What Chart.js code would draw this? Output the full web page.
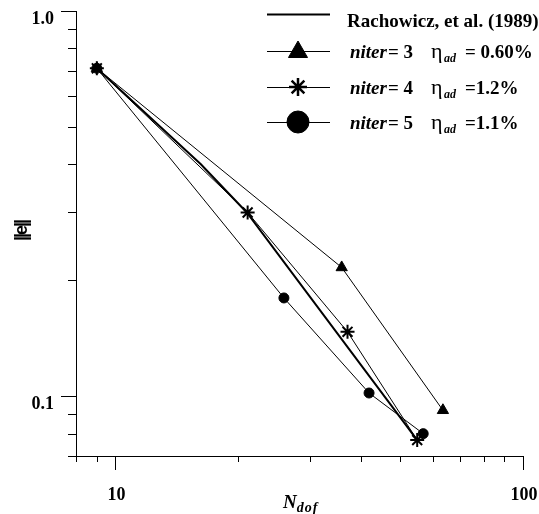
<!DOCTYPE html>
<html>
<head>
<meta charset="utf-8">
<script src="https://cdn.jsdelivr.net/npm/chart.js@4.4.1/dist/chart.umd.min.js"></script>
<style>
  html, body { margin: 0; padding: 0; background: #fff; }
</style>
</head>
<body>
<canvas id="grafico" width="539" height="514"></canvas>
<script>
// valores (eixos log-log)
const rachN = [9.0, 16.2, 21.0, 55.0];
const rachE = [0.71, 0.40, 0.30, 0.077];

const niter3N = [9.0, 35.9, 63.6];
const niter3E = [0.71, 0.216, 0.092];

const niter4N = [9.0, 21.1, 37.1, 55.0];
const niter4E = [0.71, 0.30, 0.147, 0.077];

const niter5N = [9.0, 25.9, 41.9, 56.9];
const niter5E = [0.71, 0.18, 0.102, 0.080];

// ticks dos eixos
const xMajor = [10, 100];
const xMinor = [8, 9, 20, 30, 40, 50, 60, 70, 80, 90];
const yMajor = [0.1, 1.0];
const yMinor = [0.07, 0.08, 0.09, 0.2, 0.3, 0.4, 0.5, 0.6, 0.7, 0.8, 0.9];
const xLabels = ['10', '100'];
const yLabels = ['0.1', '1.0'];

// legenda
const legendRach = 'Rachowicz, et al. (1989)';
const legendIter = ['3', '4', '5'];
const legendEta = ['0.60%', '1.2%', '1.1%'];

function pares(xs, ys) {
  return xs.map((v, i) => ({ x: v, y: ys[i] }));
}

const serif = '"Liberation Serif", "Times New Roman", serif';

function marcador(ctx, estilo, r, x, y, bw) {
  ctx.fillStyle = '#000';
  ctx.strokeStyle = '#000';
  ctx.lineWidth = bw;
  Chart.helpers.drawPoint(ctx, { pointStyle: estilo, radius: r, rotation: 0, borderWidth: bw }, x, y);
}

// eixos, ticks, textos e legenda desenhados à mão
const eixos = {
  id: 'eixos',
  afterDraw(chart) {
    const ctx = chart.ctx;
    const a = chart.chartArea;
    const sx = chart.scales.x;
    const sy = chart.scales.y;
    ctx.save();
    ctx.strokeStyle = '#000';
    ctx.lineWidth = 1;
    ctx.beginPath();
    ctx.moveTo(a.left + 0.5, a.top);
    ctx.lineTo(a.left + 0.5, a.bottom + 0.5);
    ctx.lineTo(a.right, a.bottom + 0.5);
    ctx.stroke();

    ctx.beginPath();
    yMajor.forEach(v => {
      const p = Math.round(sy.getPixelForValue(v)) + 0.5;
      ctx.moveTo(a.left - 15, p); ctx.lineTo(a.left, p);
    });
    yMinor.forEach(v => {
      const p = Math.round(sy.getPixelForValue(v)) + 0.5;
      ctx.moveTo(a.left - 8, p); ctx.lineTo(a.left, p);
    });
    xMajor.forEach(v => {
      const p = Math.round(sx.getPixelForValue(v)) + 0.5;
      ctx.moveTo(p, a.bottom); ctx.lineTo(p, a.bottom + 14);
    });
    xMinor.forEach(v => {
      const p = Math.round(sx.getPixelForValue(v)) + 0.5;
      ctx.moveTo(p, a.bottom); ctx.lineTo(p, a.bottom + 6);
    });
    ctx.stroke();

    // rótulos dos ticks
    ctx.fillStyle = '#000';
    ctx.font = 'bold 18px ' + serif;
    ctx.textBaseline = 'alphabetic';
    ctx.textAlign = 'right';
    yMajor.forEach((v, i) => {
      ctx.fillText(yLabels[i], a.left - 22, sy.getPixelForValue(v) + 13);
    });
    ctx.textAlign = 'center';
    xMajor.forEach((v, i) => {
      ctx.fillText(xLabels[i], sx.getPixelForValue(v) + 1, a.bottom + 44);
    });

    // título eixo x: N_dof
    ctx.textAlign = 'left';
    ctx.font = 'bold italic 19px ' + serif;
    ctx.fillText('N', 283, 508);
    const wN = ctx.measureText('N').width;
    ctx.font = 'bold italic 14px ' + serif;
    ctx.letterSpacing = '1px';
    ctx.fillText('dof', 283 + wN, 512);
    ctx.letterSpacing = '0px';

    // título eixo y: ||e||
    ctx.save();
    ctx.translate(22, 231);
    ctx.rotate(-Math.PI / 2);
    ctx.font = 'bold 18px "Liberation Sans", Arial, sans-serif';
    ctx.letterSpacing = '-2px';
    ctx.textAlign = 'center';
    ctx.textBaseline = 'middle';
    ctx.fillText('||e||', 0, 0);
    ctx.restore();

    // legenda
    const lx0 = 267, lx1 = 330, mx = 298;
    const rows = [14, 51, 87, 122];
    ctx.lineWidth = 2;
    ctx.beginPath();
    ctx.moveTo(lx0, rows[0] + 0.5); ctx.lineTo(lx1, rows[0] + 0.5);
    ctx.stroke();
    ctx.lineWidth = 1;
    ctx.beginPath();
    for (let i = 1; i < 4; i++) {
      ctx.moveTo(lx0, rows[i] + 0.5); ctx.lineTo(lx1, rows[i] + 0.5);
    }
    ctx.stroke();
    marcador(ctx, 'triangle', 11, mx, rows[1] + 1, 1);
    marcador(ctx, 'star', 9, mx, rows[2], 2.5);
    marcador(ctx, 'circle', 11, mx, rows[3], 1);

    ctx.fillStyle = '#000';
    ctx.textAlign = 'left';
    ctx.textBaseline = 'alphabetic';
    ctx.font = 'bold 19px ' + serif;
    ctx.fillText(legendRach, 347, rows[0] + 13);
    for (let i = 0; i < 3; i++) {
      const b = rows[i + 1] + 7;
      ctx.font = 'bold italic 19px ' + serif;
      ctx.fillText('niter', 350, b);
      let w = ctx.measureText('niter').width;
      ctx.font = 'bold 19px ' + serif;
      ctx.fillText('= ' + legendIter[i], 350 + w + 1, b);
      ctx.font = '22px ' + serif;
      ctx.fillText('η', 431, b);
      ctx.font = 'bold italic 12px ' + serif;
      ctx.fillText('ad', 444, b + 4);
      ctx.font = 'bold 19px ' + serif;
      ctx.fillText((i === 0 ? '= ' : '=') + legendEta[i], 465, b);
    }
    ctx.restore();
  }
};

const ctx = document.getElementById('grafico').getContext('2d');
new Chart(ctx, {
  type: 'scatter',
  data: {
    datasets: [
      {
        label: legendRach,
        data: pares(rachN, rachE),
        showLine: true,
        borderColor: '#000',
        borderWidth: 2,
        pointRadius: 0
      },
      {
        label: 'niter=3',
        data: pares(niter3N, niter3E),
        showLine: true,
        borderColor: '#000',
        borderWidth: 1,
        pointStyle: 'triangle',
        pointRadius: 6.5,
        pointBackgroundColor: '#000',
        pointBorderColor: '#000',
        pointBorderWidth: 1
      },
      {
        label: 'niter=4',
        data: pares(niter4N, niter4E),
        showLine: true,
        borderColor: '#000',
        borderWidth: 1,
        pointStyle: 'star',
        pointRadius: 7,
        pointBackgroundColor: '#000',
        pointBorderColor: '#000',
        pointBorderWidth: 2
      },
      {
        label: 'niter=5',
        data: pares(niter5N, niter5E),
        showLine: true,
        borderColor: '#000',
        borderWidth: 1,
        pointStyle: 'circle',
        pointRadius: 5,
        pointBackgroundColor: '#000',
        pointBorderColor: '#000',
        pointBorderWidth: 1
      }
    ]
  },
  options: {
    responsive: false,
    animation: false,
    devicePixelRatio: 1,
    layout: { padding: { left: 76, right: 16, top: 11, bottom: 58 } },
    scales: {
      x: { type: 'logarithmic', min: 8, max: 100, display: false },
      y: { type: 'logarithmic', min: 0.07, max: 1.0, display: false }
    },
    plugins: {
      legend: { display: false },
      tooltip: { enabled: false }
    }
  },
  plugins: [eixos]
});
</script>
</body>
</html>
